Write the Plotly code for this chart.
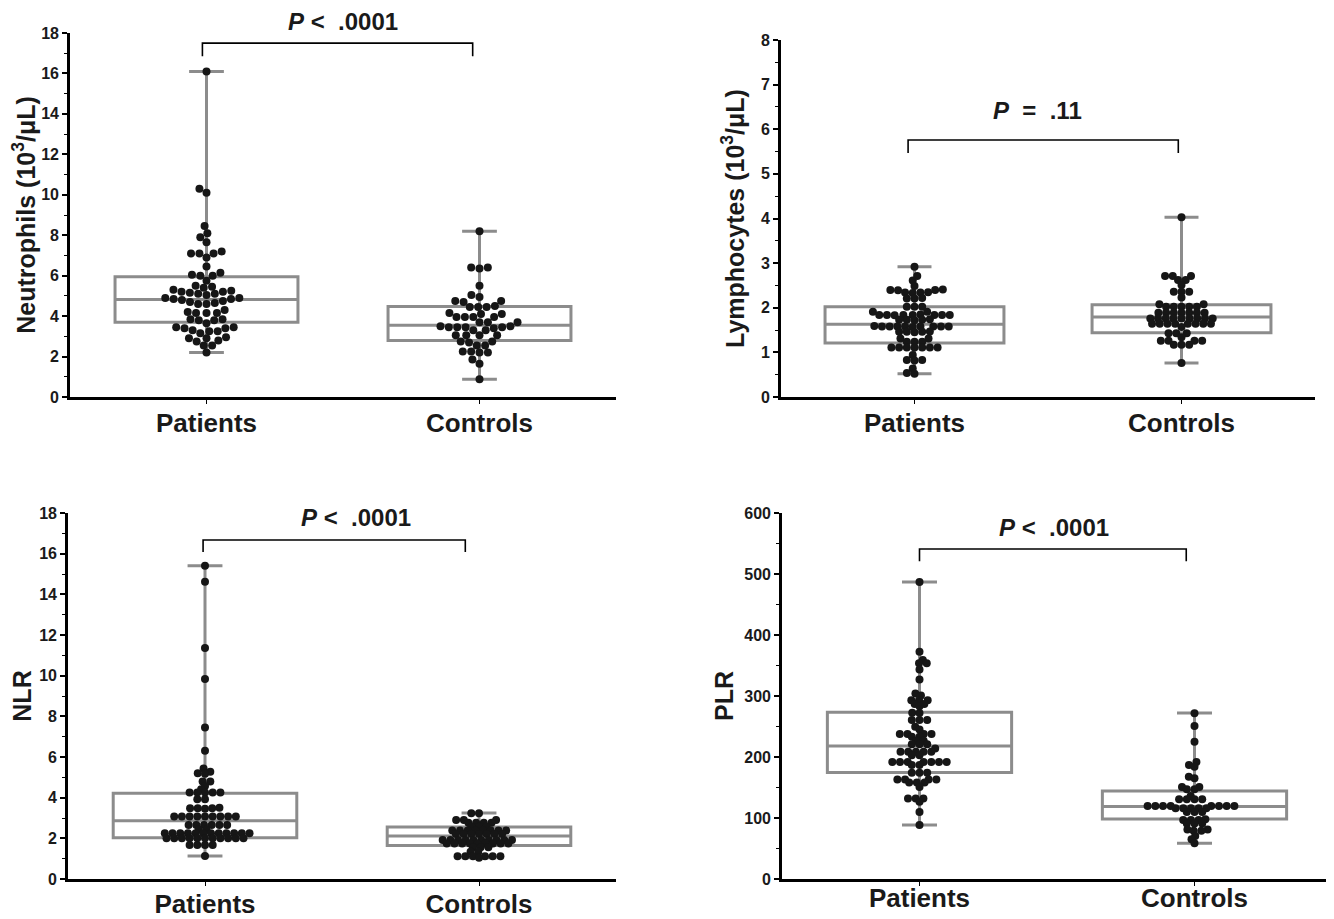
import numpy as np
import plotly.graph_objects as go

W, H = 1334, 919
PAGE_PAD = 8  # default body margin of the html page (px)

# ---------------- data ----------------
groups = ["Patients", "Controls"]

neut_pat = [16.1, 10.3, 10.1, 8.45, 8.1, 7.9, 7.65, 7.2, 7.1, 7.1, 7.1, 6.9, 6.45, 6.15,
            6.05, 6.0, 6.0, 5.75, 5.5, 5.45, 5.4, 5.3, 5.25, 5.2, 5.2, 5.15, 5.1, 5.1, 5.05,
            4.9, 4.9, 4.85, 4.85, 4.8, 4.75, 4.7, 4.65, 4.6, 4.6, 4.3, 4.2, 4.15, 4.15, 4.15,
            3.85, 3.85, 3.8, 3.8, 3.65, 3.45, 3.45, 3.4, 3.4, 3.3, 3.25, 3.25, 3.15,
            2.95, 2.9, 2.9, 2.8, 2.75, 2.55, 2.55, 2.2]
neut_ctl = [8.2, 6.4, 6.35, 6.4, 5.5, 5.05, 4.95, 4.75, 4.75, 4.7, 4.5, 4.45, 4.45, 4.45,
            4.15, 4.1, 4.1, 3.95, 3.95, 3.95, 3.95, 3.7, 3.7, 3.7, 3.5, 3.5, 3.45, 3.45,
            3.45, 3.45, 3.4, 3.3, 3.3, 3.05, 3.05, 3.05, 3.05, 2.75, 2.75, 2.7, 2.55, 2.55,
            2.25, 2.25, 2.2, 2.2, 1.85, 1.65, 0.88]

lymph_pat = [2.92, 2.71, 2.61, 2.49, 2.4, 2.4, 2.41, 2.39, 2.34, 2.34, 2.33, 2.35,
             2.21, 2.21, 2.22, 2.02, 2.02, 2.02, 1.91, 1.91,
             1.84, 1.84, 1.84, 1.84, 1.84, 1.85, 1.83, 1.84, 1.84,
             1.73, 1.73, 1.72, 1.73, 1.74,
             1.58, 1.58, 1.58, 1.59, 1.58, 1.57, 1.58, 1.58, 1.58, 1.58,
             1.46, 1.46, 1.45, 1.46, 1.47, 1.31, 1.31, 1.24, 1.24, 1.24,
             1.11, 1.11, 1.11, 1.11, 1.11, 1.11, 1.11, 0.94, 0.83, 0.82, 0.83, 0.64, 0.54, 0.52]
lymph_ctl = [4.03, 2.71, 2.71, 2.71, 2.62, 2.62, 2.51, 2.36, 2.36, 2.36, 2.23, 2.08, 2.08,
             2.02, 2.02, 2.02, 2.02, 2.02, 1.89, 1.89, 1.89, 1.89, 1.89, 1.89, 1.89,
             1.76, 1.76, 1.76, 1.76, 1.76, 1.76, 1.76, 1.76, 1.76,
             1.64, 1.64, 1.64, 1.64, 1.64, 1.64, 1.64, 1.64, 1.57, 1.43, 1.43, 1.43,
             1.34, 1.26, 1.26, 1.26, 1.26, 1.17, 1.17, 1.17, 0.76]

nlr_pat = [15.41, 14.62, 11.36, 9.83, 7.45, 6.31, 5.44, 5.28, 5.18, 5.2, 4.79, 4.79, 4.57,
           4.41, 4.25, 4.25, 4.25, 4.25, 4.25, 3.92, 3.92, 3.5, 3.48, 3.48, 3.46, 3.48,
           3.07, 3.07, 3.07, 3.07, 3.07, 3.07, 3.07, 3.07, 3.07,
           2.66, 2.66, 2.66, 2.66, 2.66, 2.66, 2.44, 2.44,
           2.25, 2.25, 2.25, 2.25, 2.25, 2.25, 2.25, 2.25, 2.25, 2.25, 2.25, 2.25,
           2.0, 2.0, 2.0, 2.0, 2.0, 2.0, 2.0, 2.0, 2.0, 2.0, 2.0,
           1.67, 1.67, 1.67, 1.67, 1.13]
nlr_ctl = [3.23, 3.23, 2.9, 2.9, 2.9, 2.77, 2.77, 2.77, 2.77, 2.57, 2.57, 2.57,
           2.38, 2.38, 2.38, 2.38, 2.38, 2.38, 2.38, 2.38, 2.21, 2.21, 2.21, 2.21, 2.21, 2.21, 2.21,
           1.92, 1.92, 1.92, 1.92, 1.92, 1.92, 1.92, 1.92, 1.92, 1.92,
           1.75, 1.75, 1.75, 1.75, 1.75, 1.75, 1.75, 1.75, 1.75,
           1.56, 1.56, 1.56, 1.34, 1.34, 1.12, 1.12, 1.12, 1.12, 1.12, 1.12, 1.05]

plr_pat = [487, 372.6, 359, 353.6, 353.6, 343.6, 327, 304, 301, 293, 293, 293, 287, 287, 283,
           272.6, 272, 260.6, 260.6, 260.6, 249.7, 245, 237.7, 237.7, 237.7, 237.7, 233, 233,
           226.8, 226.8, 221, 221, 221, 214, 208.7, 208.7, 208.7, 208.7, 208.7, 203, 203,
           192, 192, 192, 192, 192, 192, 192, 187, 187, 174, 174, 174, 163, 163, 163, 163,
           158, 158, 158, 151, 132, 132, 132, 126.6, 110, 88.5]
plr_ctl = [271.6, 250.8, 225, 192, 187, 184, 167.8, 165, 151, 151, 147, 147, 136,
           130.6, 130.6, 130.6, 130.6, 119.7, 119.7, 119.7, 119.7, 119.7, 119.7, 119.7, 119.7,
           115.8, 115.8, 115.8, 115.8, 115.8, 110, 110, 110, 98, 96.7, 96.7, 96.7,
           91, 91, 91, 81, 81, 79, 79, 70.5, 65, 58.5]

# box statistics: [Patients, Controls]
neut_q1, neut_med, neut_q3 = [3.7, 2.8], [4.82, 3.55], [5.95, 4.47]
neut_lo, neut_hi = [2.2, 0.88], [16.1, 8.2]
lymph_q1, lymph_med, lymph_q3 = [1.21, 1.44], [1.63, 1.79], [2.02, 2.07]
lymph_lo, lymph_hi = [0.52, 0.76], [2.92, 4.03]
nlr_q1, nlr_med, nlr_q3 = [2.03, 1.65], [2.87, 2.12], [4.22, 2.56]
nlr_lo, nlr_hi = [1.13, 1.05], [15.41, 3.25]
plr_q1, plr_med, plr_q3 = [174.5, 98.5], [218, 118.7], [273.5, 144.4]
plr_lo, plr_hi = [88.5, 58.5], [487, 272]

p_texts = ["<i>P</i>\u00a0<\u00a0\u00a0.0001", "<i>P</i>\u00a0\u00a0=\u00a0\u00a0.11",
           "<i>P</i>\u00a0<\u00a0\u00a0.0001", "<i>P</i>\u00a0<\u00a0\u00a0.0001"]
y_titles = ["Neutrophils (10<sup>3</sup>/\u03bcL)", "Lymphocytes (10<sup>3</sup>/\u03bcL)", "NLR", "PLR"]

# ---------------- layout geometry (screen pixels) ----------------
panels = [
    dict(px=(70, 616), py=(33, 397), yr=18, dt=2, mdt=1, pat=neut_pat, ctl=neut_ctl,
         q1=neut_q1, med=neut_med, q3=neut_q3, lo=neut_lo, hi=neut_hi,
         br=(-0.015, 0.975, 16.85, 17.5), ptxt=(0.50, 18.55), stand=10, xstand=-3,
         rule="ellipse", ax=8.4, ay=7.5),
    dict(px=(781, 1315), py=(40, 397), yr=8, dt=1, mdt=0.5, pat=lymph_pat, ctl=lymph_ctl,
         q1=lymph_q1, med=lymph_med, q3=lymph_q3, lo=lymph_lo, hi=lymph_hi,
         br=(-0.024, 0.988, 5.47, 5.76), ptxt=(0.46, 6.43), stand=10, xstand=-3,
         rule="ellipse", ax=7.7, ay=5.5),
    dict(px=(68, 616), py=(513, 879), yr=18, dt=2, mdt=1, pat=nlr_pat, ctl=nlr_ctl,
         q1=nlr_q1, med=nlr_med, q3=nlr_q3, lo=nlr_lo, hi=nlr_hi,
         br=(-0.007, 0.95, 16.08, 16.67), ptxt=(0.55, 17.8), stand=10, xstand=-4,
         rule="linear", ax=7.7, ay=6.5),
    dict(px=(782, 1332), py=(513, 879), yr=600, dt=100, mdt=50, pat=plr_pat, ctl=plr_ctl,
         q1=plr_q1, med=plr_med, q3=plr_q3, lo=plr_lo, hi=plr_hi,
         br=(0.0, 0.97, 521, 541), ptxt=(0.49, 577), stand=4, xstand=-10,
         rule="linear", ax=7.7, ay=6.5),
]


def swarm(vals, px_x, px_y, ax, ay, rule):
    """Beeswarm offsets computed in pixel units, returned in axis units."""
    vals = np.asarray(vals, dtype=float)
    order = np.argsort(vals, kind="stable")
    placed = []
    offs = np.zeros(len(vals))
    for i in order:
        y = vals[i] * px_y
        cands = [0.0]
        forb = []
        for xj, yj in placed:
            dy = abs(y - yj)
            if dy < ay:
                if rule == "linear":
                    dx = ax * (1 - dy / ay)
                else:
                    dx = ax * np.sqrt(1 - (dy / ay) ** 2)
                forb.append((xj - dx, xj + dx))
                cands += [xj - dx, xj + dx]
        best = 0.0
        for c in sorted(cands, key=lambda v: (round(abs(v), 6), v)):
            if all(not (a + 1e-6 < c < b - 1e-6) for a, b in forb):
                best = c
                break
        placed.append((best, y))
        offs[i] = best / px_x
    return offs


BOX_GRAY = "#8c8c8c"
DOT = "#161616"
FONT = "Liberation Sans, Arial, sans-serif"
TXT = "#1a1a1a"

fig = go.Figure()
layout = dict(width=W, height=H, margin=dict(l=0, r=0, t=0, b=0, autoexpand=False),
              paper_bgcolor="white", plot_bgcolor="white", showlegend=False,
              shapes=[], annotations=[])

for k, p in enumerate(panels):
    n = k + 1
    xa = "x" if n == 1 else f"x{n}"
    ya = "y" if n == 1 else f"y{n}"
    x0p, x1p = p["px"][0] - PAGE_PAD, p["px"][1] - PAGE_PAD
    y0p, y1p = p["py"][0] - PAGE_PAD, p["py"][1] - PAGE_PAD
    xdom = [x0p / W, x1p / W]
    ydom = [1 - y1p / H, 1 - y0p / H]
    px_x = (x1p - x0p) / 2.0
    px_y = (y1p - y0p) / p["yr"]

    fig.add_trace(go.Box(
        x=[0, 1], q1=p["q1"], median=p["med"], q3=p["q3"],
        lowerfence=p["lo"], upperfence=p["hi"],
        width=0.67, whiskerwidth=0.19, boxpoints=False,
        line=dict(color=BOX_GRAY, width=3), fillcolor="rgba(0,0,0,0)",
        hoverinfo="skip", xaxis=xa, yaxis=ya))

    for gi, vals in enumerate([p["pat"], p["ctl"]]):
        offs = swarm(vals, px_x, px_y, p["ax"], p["ay"], p["rule"])
        fig.add_trace(go.Scatter(
            x=gi + offs, y=vals, mode="markers",
            marker=dict(size=8, color=DOT, line=dict(width=0)),
            hoverinfo="skip", xaxis=xa, yaxis=ya))

    xkey = "xaxis" if n == 1 else f"xaxis{n}"
    ykey = "yaxis" if n == 1 else f"yaxis{n}"
    layout[xkey] = dict(domain=xdom, anchor=ya, range=[-0.5, 1.5], automargin=False,
                        tickvals=[0, 1], ticktext=groups,
                        ticks="outside", ticklen=4, tickwidth=1.2, tickcolor="black",
                        showline=True, linewidth=2.6, linecolor="black",
                        showgrid=False, zeroline=False, fixedrange=True,
                        ticklabelstandoff=p["xstand"],
                        tickfont=dict(family=FONT, size=26, color=TXT, weight="bold"))
    layout[ykey] = dict(domain=ydom, anchor=xa, range=[0, p["yr"]], automargin=False,
                        dtick=p["dt"], tick0=0,
                        ticks="outside", ticklen=5, tickwidth=1.5, tickcolor="black",
                        minor=dict(dtick=p["mdt"], ticks="outside", ticklen=3,
                                   tickwidth=1.2, tickcolor="black", showgrid=False),
                        showline=True, linewidth=2.6, linecolor="black",
                        showgrid=False, zeroline=False, fixedrange=True,
                        tickfont=dict(family=FONT, size=16, color=TXT, weight="bold"),
                        title=dict(text=y_titles[k], standoff=p["stand"],
                                   font=dict(family=FONT, size=25, color=TXT, weight="bold")))

    bx0, bx1, yb, yt = p["br"]
    layout["shapes"].append(dict(
        type="path", xref=xa, yref=ya,
        path=f"M {bx0},{yb} L {bx0},{yt} L {bx1},{yt} L {bx1},{yb}",
        line=dict(color="black", width=1.6)))
    layout["annotations"].append(dict(
        x=p["ptxt"][0], y=p["ptxt"][1] / p["yr"], xref=xa, yref=f"{ya} domain",
        text=p_texts[k], showarrow=False, xanchor="center", yanchor="middle",
        font=dict(family=FONT, size=24, color=TXT, weight="bold")))

fig.update_layout(**layout)
fig.write_html("out.html")
